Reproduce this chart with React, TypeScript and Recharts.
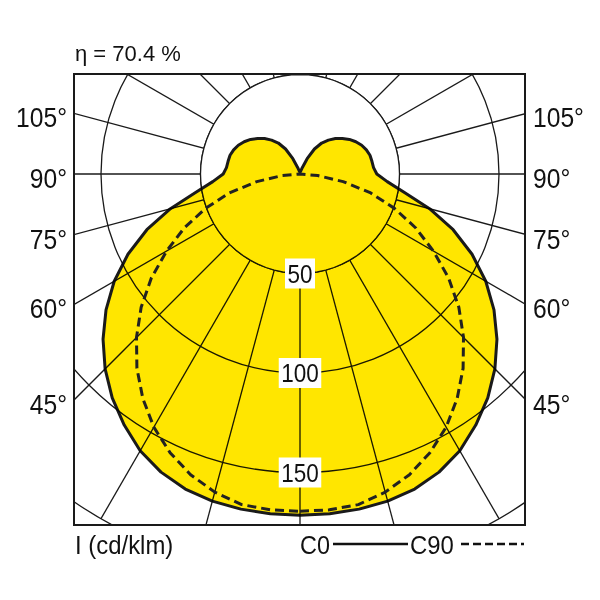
import React from 'react';
import { RadarChart, Radar, PolarGrid, PolarAngleAxis, PolarRadiusAxis } from 'recharts';

// ---- data (cd/klm), gamma in degrees ----
const GAMMA = [0, 5, 10, 15, 20, 25, 30, 35, 40, 45, 50, 55, 60, 65, 70, 75, 80, 85, 90,
  95, 100, 105, 110, 115, 120, 125, 130, 135, 140, 145, 150, 155, 160, 165, 170, 175, 180];
const C0 = [171.5, 171.4, 171.0, 170.2, 168.5, 165.3, 160.6, 154.0, 146.8, 138.5, 129.2, 119.0, 107.8, 95.4, 81.9, 67.4, 53.3, 44, 38.6,
  37.1, 36.7, 36.4, 35.5, 34.2, 32.4, 30.3, 27.8, 25.2, 22.2, 19, 14.5, 8.5, 3.5, 1.8, 1.2, 1, 1];
const C90 = [169.5, 169.4, 168.7, 165.5, 160.8, 154.5, 146.9, 137.7, 127.5, 116.2, 104.2, 91.2, 77.4, 64.2, 50.5, 36.8, 22, 9, 0,
  0, 0, 0, 0, 0, 0, 0, 0, 0, 0, 0, 0, 0, 0, 0, 0, 0, 0];
const ANGLE_TICKS = [0, 15, 30, 45, 60, 75, 90, 105, 120, 135, 150, 165, 180, 195, 210, 225, 240, 255, 270, 285, 300, 315, 330, 345];
const RADIUS_TICKS = [50, 100, 150, 200];
const RADIUS_LABELS = [50, 100, 150];
const RADIUS_MAX = 200;
const SIDE_LABELS = [105, 90, 75, 60, 45];
const ETA = '70.4';

// full-circle table built from the half-plane arrays (symmetric)
const table = [...GAMMA, ...GAMMA.slice(1, -1).reverse().map((g) => 360 - g)].map((angle) => {
  const g = angle <= 180 ? angle : 360 - angle;
  const i = GAMMA.indexOf(g);
  return { angle, c0: C0[i], c90: C90[i], ring: RADIUS_TICKS[0] };
});

// ---- layout ----
const BOX_L = 74;
const BOX_T = 74;
const BOX = 451;
const CX = 300;
const CY = 174;
const OUTER = 398;
const FONT = "'Liberation Sans', Arial, sans-serif";

const RadiusTick = (props: any) => {
  const { x, y, payload } = props;
  if (!RADIUS_LABELS.includes(payload.value)) return <g />;
  const label = String(payload.value);
  const w = label.length * 12.5 + 5;
  return (
    <g>
      <rect x={x - w / 2} y={y - 15} width={w} height={30} fill="#ffffff" />
      <text transform={`translate(${x},${y + 9}) scale(0.9,1)`} x={0} y={0} textAnchor="middle" fontSize={25} fontFamily={FONT} fill="#111">
        {label}
      </text>
    </g>
  );
};

const sideY = (g: number) => CY + (CX - BOX_L) * Math.tan(((90 - g) * Math.PI) / 180) + 14;

export default function App() {
  return (
    <div style={{ position: 'absolute', left: 0, top: 0, width: 600, height: 600, background: '#fff' }}>
      <style>{'.recharts-surface{overflow:hidden}.c0-fill{mix-blend-mode:multiply}'}</style>
      <div style={{ position: 'absolute', left: BOX_L, top: BOX_T, width: BOX, height: BOX }}>
        <RadarChart
          width={BOX}
          height={BOX}
          data={table}
          cx={CX - BOX_L}
          cy={CY - BOX_T}
          outerRadius={OUTER}
          startAngle={-90}
          endAngle={270}
          margin={{ top: 0, right: 0, bottom: 0, left: 0 }}
        >
          <PolarGrid gridType="circle" stroke="#1a1a1a" strokeWidth={1.3} strokeOpacity={1} />
          <PolarAngleAxis dataKey="angle" type="number" domain={[0, 360]} ticks={ANGLE_TICKS} tick={false} tickLine={false} axisLine={false} />
          <Radar dataKey="ring" fill="#ffffff" fillOpacity={1} stroke="#1a1a1a" strokeWidth={1.3} dot={false} isAnimationActive={false} />
          <Radar className="c0-fill" dataKey="c0" fill="#FFE600" fillOpacity={1} stroke="#1a1a1a" strokeWidth={3} strokeLinejoin="round" dot={false} isAnimationActive={false} />
          <Radar dataKey="c90" fill="none" fillOpacity={0} stroke="#222" strokeWidth={3} strokeDasharray="9 5" strokeLinejoin="round" dot={false} isAnimationActive={false} />
          <PolarRadiusAxis angle={-90} type="number" domain={[0, RADIUS_MAX]} ticks={RADIUS_TICKS} axisLine={false} tickLine={false} tick={RadiusTick} />
        </RadarChart>
      </div>
      <div style={{ position: 'absolute', left: BOX_L - 1, top: BOX_T - 1, width: BOX + 2, height: BOX + 2, boxSizing: 'border-box', border: '2px solid #1a1a1a' }} />
      <svg width={600} height={600} style={{ position: 'absolute', left: 0, top: 0, pointerEvents: 'none' }}>
        <text x={75} y={61} fontSize={22} fontFamily={FONT} fill="#111">{`η = ${ETA} %`}</text>
        {SIDE_LABELS.map((g) => (
          <g key={g}>
            <text transform={`translate(67,${sideY(g)}) scale(0.88,1)`} textAnchor="end" fontSize={28} fontFamily={FONT} fill="#111">{`${g}°`}</text>
            <text transform={`translate(533,${sideY(g)}) scale(0.88,1)`} textAnchor="start" fontSize={28} fontFamily={FONT} fill="#111">{`${g}°`}</text>
          </g>
        ))}
        <text transform="translate(75,554) scale(0.92,1)" fontSize={26} fontFamily={FONT} fill="#111">I (cd/klm)</text>
        <text transform="translate(300,554) scale(0.9,1)" fontSize={26} fontFamily={FONT} fill="#111">C0</text>
        <line x1={333} x2={408} y1={544} y2={544} stroke="#111" strokeWidth={2.5} />
        <text transform="translate(410,554) scale(0.92,1)" fontSize={26} fontFamily={FONT} fill="#111">C90</text>
        <line x1={461} x2={524} y1={544} y2={544} stroke="#111" strokeWidth={2.5} strokeDasharray="8 4" />
      </svg>
    </div>
  );
}
